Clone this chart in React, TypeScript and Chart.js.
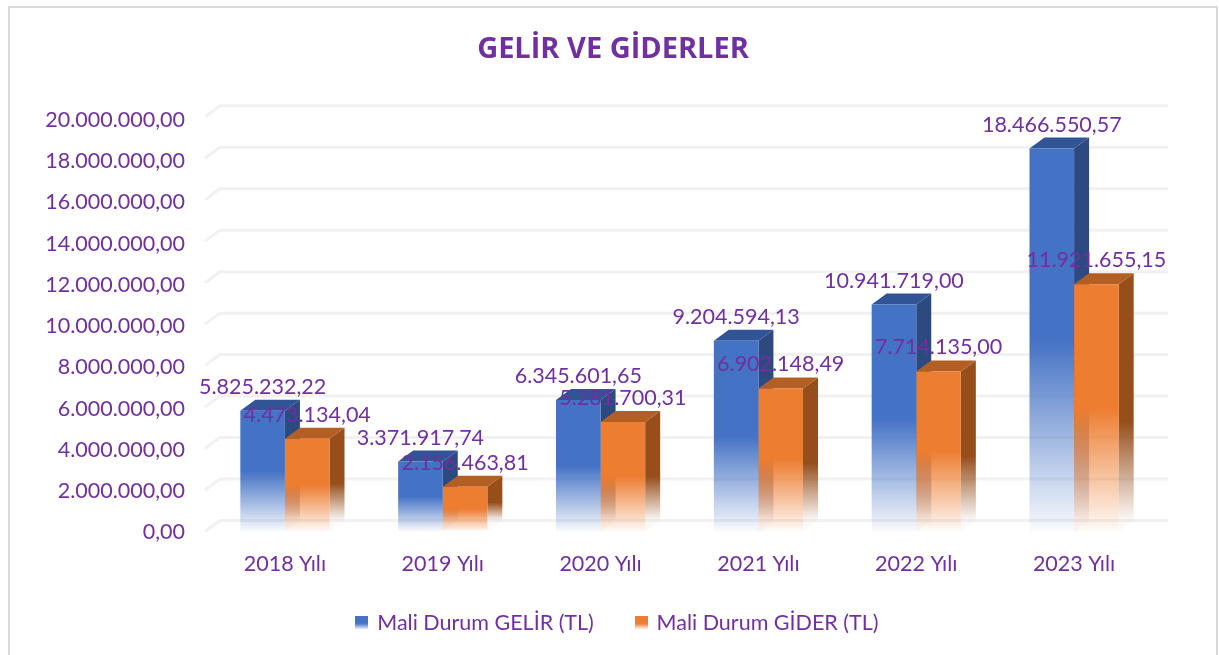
import React, { useEffect, useRef } from "react";
import { Chart, registerables } from "chart.js";

Chart.register(...registerables);

const categories = ["2018 Yılı", "2019 Yılı", "2020 Yılı", "2021 Yılı", "2022 Yılı", "2023 Yılı"];
const gelir = [5825232.22, 3371917.74, 6345601.65, 9204594.13, 10941719.0, 18466550.57];
const gider = [4473134.04, 2156463.81, 5281700.31, 6902148.49, 7714135.0, 11921655.15];
const tickValues = [0, 2000000, 4000000, 6000000, 8000000, 10000000, 12000000, 14000000, 16000000, 18000000, 20000000];
const seriesNames = ["Mali Durum GELİR (TL)", "Mali Durum GİDER (TL)"];
const titleText = "GELİR VE GİDERLER";

const PURPLE = "#7030A0";
const FONT = "Lato";
const DX = 15;
const DY = 11;
const palette = [
  { front: [68, 114, 196], side: [44, 74, 127], top: [48, 84, 150] },
  { front: [237, 125, 49], side: [150, 79, 27], top: [179, 94, 34] },
];

const fmt = (v: number) => {
  const [i, d] = v.toFixed(2).split(".");
  return i.replace(/\B(?=(\d{3})+(?!\d))/g, ".") + "," + d;
};

const fade = (c: CanvasRenderingContext2D, top: number, base: number, rgb: number[], start: number) => {
  const g = c.createLinearGradient(0, top, 0, base);
  const s = rgb.join(",");
  g.addColorStop(0, `rgba(${s},1)`);
  g.addColorStop(start, `rgba(${s},1)`);
  g.addColorStop(1, `rgba(${s},0.03)`);
  return g;
};

const frontFill = (idx: number) => (ctx: any) => {
  const { chart, parsed } = ctx;
  if (!chart.chartArea || !parsed) return `rgb(${palette[idx].front.join(",")})`;
  const y = chart.scales.y;
  return fade(chart.ctx, y.getPixelForValue(parsed.y), y.getPixelForValue(0), palette[idx].front, 0.5);
};

const swatch = (rgb: number[]) => {
  const cv = document.createElement("canvas");
  cv.width = 13;
  cv.height = 13;
  const c = cv.getContext("2d")!;
  const g = c.createLinearGradient(0, 0, 0, 13);
  const s = rgb.join(",");
  g.addColorStop(0, `rgba(${s},1)`);
  g.addColorStop(0.55, `rgba(${s},1)`);
  g.addColorStop(1, `rgba(${s},0.08)`);
  c.fillStyle = g;
  c.fillRect(0, 0, 13, 13);
  return cv;
};

const wall3d = {
  id: "wall3d",
  afterLayout(chart: any) {
    const l = chart.legend;
    if (!l) return;
    const dy = 561 - l.top;
    l.top += dy;
    l.bottom += dy;
    l.left += 5;
    l.right += 5;
  },
  beforeDatasetsDraw(chart: any) {
    const { ctx, chartArea, scales } = chart;
    ctx.save();
    ctx.strokeStyle = "#f1f1f1";
    ctx.lineWidth = 3;
    tickValues.forEach((v) => {
      const p = scales.y.getPixelForValue(v);
      ctx.beginPath();
      ctx.moveTo(chartArea.left - 1, p);
      ctx.lineTo(chartArea.left + DX - 1, p - DY);
      ctx.lineTo(chartArea.right + DX, p - DY);
      ctx.stroke();
    });
    [0, 1].forEach((di) => {
      const base = scales.y.getPixelForValue(0);
      chart.getDatasetMeta(di).data.forEach((bar: any) => {
        const right = bar.x + bar.width / 2;
        const left = bar.x - bar.width / 2;
        ctx.fillStyle = fade(ctx, bar.y - DY, base - DY, palette[di].side, 0.6);
        ctx.beginPath();
        ctx.moveTo(right, bar.y);
        ctx.lineTo(right + DX, bar.y - DY);
        ctx.lineTo(right + DX, base - DY);
        ctx.lineTo(right, base);
        ctx.closePath();
        ctx.fill();
        ctx.fillStyle = `rgb(${palette[di].top.join(",")})`;
        ctx.beginPath();
        ctx.moveTo(left, bar.y);
        ctx.lineTo(left + DX, bar.y - DY);
        ctx.lineTo(right + DX, bar.y - DY);
        ctx.lineTo(right, bar.y);
        ctx.closePath();
        ctx.fill();
      });
    });
    ctx.restore();
  },
  afterDatasetsDraw(chart: any) {
    const { ctx } = chart;
    ctx.save();
    ctx.font = `21.5px ${FONT}`;
    ctx.fillStyle = PURPLE;
    ctx.textAlign = "center";
    ctx.textBaseline = "middle";
    chart.data.datasets.forEach((ds: any, di: number) => {
      chart.getDatasetMeta(di).data.forEach((bar: any, i: number) => {
        ctx.fillText(fmt(ds.data[i]), bar.x, bar.y - 24);
      });
    });
    ctx.restore();
  },
};

export default function App() {
  const ref = useRef<HTMLCanvasElement>(null);
  useEffect(() => {
    const chart = new Chart(ref.current!, {
      type: "bar",
      data: {
        labels: categories,
        datasets: [
          { label: seriesNames[0], data: gelir, backgroundColor: frontFill(0), yAxisID: "y" },
          { label: seriesNames[1], data: gider, backgroundColor: frontFill(1), yAxisID: "y" },
        ],
      },
      plugins: [wall3d],
      options: {
        animation: false,
        responsive: false,
        layout: { padding: 0 },
        datasets: { bar: { barPercentage: 1, categoryPercentage: 0.565 } },
        plugins: {
          tooltip: { enabled: false },
          title: {
            display: true,
            text: titleText,
            color: PURPLE,
            font: { family: "Open Sans", size: 29, weight: "bold" },
            padding: { top: 24, bottom: 50 },
          },
          legend: {
            position: "bottom",
            labels: {
              font: { family: FONT, size: 21.5 },
              color: PURPLE,
              usePointStyle: true,
              pointStyleWidth: 9,
              padding: 43,
              generateLabels: () =>
                seriesNames.map((text, i) => ({
                  text,
                  fontColor: PURPLE,
                  pointStyle: swatch(palette[i].front),
                  datasetIndex: i,
                })),
            },
          },
        },
        scales: {
          x: {
            grid: { display: false },
            border: { display: false },
            ticks: { color: PURPLE, font: { family: FONT, size: 21.5 }, padding: 12, maxRotation: 0, autoSkip: false },
            afterFit(axis: any) {
              axis.height = 49;
            },
          },
          y: { display: false, min: 0, max: 20000000 },
          yLabels: {
            position: "left",
            min: 48426,
            max: 20145278,
            grid: { display: false, drawTicks: false },
            border: { display: false },
            afterBuildTicks(axis: any) {
              axis.ticks = tickValues.map((value) => ({ value }));
            },
            ticks: {
              color: PURPLE,
              font: { family: FONT, size: 21.5 },
              padding: 21,
              autoSkip: false,
              callback: (v: any) => fmt(Number(v)),
            },
            afterFit(axis: any) {
              axis.width = 196;
            },
          },
          rightGutter: {
            position: "right",
            min: 0,
            max: 1,
            grid: { display: false, drawTicks: false },
            border: { display: false },
            ticks: { display: false },
            afterFit(axis: any) {
              axis.width = 63;
            },
          },
        },
      } as any,
    });
    return () => chart.destroy();
  }, []);
  return (
    <div
      style={{
        position: "fixed",
        left: 8,
        top: 6,
        width: 1206,
        height: 647,
        borderLeft: "2px solid #d9d9d9",
        borderTop: "2px solid #d9d9d9",
        borderRight: "2px solid #d9d9d9",
        background: "#fff",
      }}
    >
      <canvas ref={ref} width={1206} height={647} style={{ display: "block" }} />
    </div>
  );
}
